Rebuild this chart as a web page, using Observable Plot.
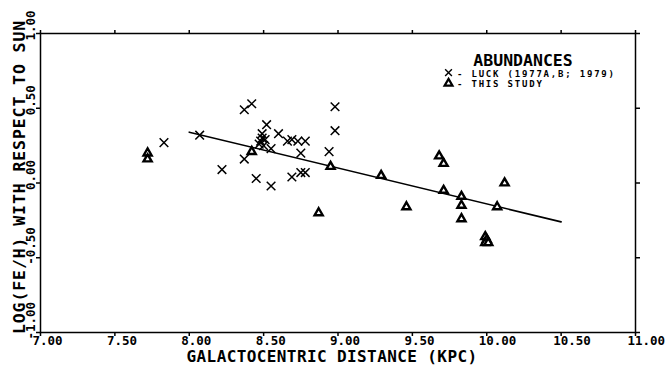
<!DOCTYPE html>
<html>
<head>
<meta charset="utf-8">
<script src="https://cdn.jsdelivr.net/npm/d3@7"></script>
<script src="https://cdn.jsdelivr.net/npm/@observablehq/plot@0.6"></script>
<style>
  html, body { margin: 0; padding: 0; background: white; }
  .ytitle text { letter-spacing: 0.9px; }
  .legtext text { letter-spacing: 1.8px; }
  .xtitle text { letter-spacing: 0.4px; }
</style>
</head>
<body>
<div id="chart"></div>
<script>
// Luck (1977a,b; 1979) abundances
const luckX = [7.83, 8.07, 8.22, 8.37, 8.37, 8.42, 8.45, 8.55, 8.52, 8.49, 8.49, 8.51, 8.48, 8.47, 8.50, 8.55, 8.60, 8.66, 8.69, 8.73, 8.78, 8.75, 8.69, 8.75, 8.78, 8.94, 8.98, 8.98];
const luckY = [0.27, 0.32, 0.09, 0.16, 0.49, 0.53, 0.03, -0.02, 0.39, 0.33, 0.30, 0.29, 0.28, 0.26, 0.25, 0.23, 0.33, 0.28, 0.29, 0.28, 0.28, 0.20, 0.04, 0.07, 0.07, 0.21, 0.35, 0.51];
// This study
const studyX = [7.72, 7.72, 8.42, 8.87, 8.95, 9.29, 9.46, 9.68, 9.71, 9.71, 9.83, 9.83, 9.83, 9.99, 10.00, 9.99, 10.01, 10.07, 10.12];
const studyY = [0.20, 0.16, 0.21, -0.20, 0.11, 0.05, -0.16, 0.18, 0.13, -0.05, -0.09, -0.15, -0.24, -0.36, -0.38, -0.40, -0.40, -0.16, 0.00];
// Fitted gradient line
const fitX = [8.0, 10.5];
const fitY = [0.34, -0.26];
// Ticks
const xTicks = [7.0, 7.5, 8.0, 8.5, 9.0, 9.5, 10.0, 10.5, 11.0];
const yTicks = [-1.0, -0.5, 0.0, 0.5, 1.0];
// Texts
const xTitle = "GALACTOCENTRIC DISTANCE (KPC)";
const yTitle = "LOG(FE/H) WITH RESPECT TO SUN";
const legendTitle = "ABUNDANCES";
const legendLabels = ["- LUCK (1977A,B; 1979)", "- THIS STUDY"];
const legendSymbols = ["times", "triangle"];
// legend anchor positions (data units)
const legendTitlePos = [10.244, 0.785];
const legendSymX = 9.743;
const legendSymY = [0.739, 0.666];
const legendTextX = 9.80;
const legendTextY = [0.712, 0.642];

const luck = luckX.map((x, i) => ({x, y: luckY[i]}));
const study = studyX.map((x, i) => ({x, y: studyY[i]}));
const fit = fitX.map((x, i) => ({x, y: fitY[i]}));
const legend = legendLabels.map((t, i) => ({t, s: legendSymbols[i], sy: legendSymY[i], ty: legendTextY[i]}));

const FONT = "DejaVu Sans Mono";

const chart = Plot.plot({
  width: 665,
  height: 365,
  marginLeft: 40,
  marginRight: 30,
  marginTop: 33,
  marginBottom: 33,
  style: {background: "white", fontFamily: FONT, color: "black"},
  x: {domain: [7, 11]},
  y: {domain: [-1, 1]},
  marks: [
    Plot.frame({stroke: "black", strokeWidth: 1.5}),
    Plot.axisX({anchor: "bottom", ticks: xTicks, tickSize: 4, tickFormat: () => "", label: null, strokeWidth: 1.5}),
    Plot.axisX({anchor: "top", ticks: xTicks, tickSize: 4, tickFormat: () => "", label: null, strokeWidth: 1.5}),
    Plot.axisY({anchor: "left", ticks: yTicks, tickSize: 4, tickFormat: () => "", label: null, strokeWidth: 1.5}),
    Plot.axisY({anchor: "right", ticks: yTicks, tickSize: 4, tickFormat: () => "", label: null, strokeWidth: 1.5}),
    // tick labels
    Plot.text(xTicks, {x: d => d, frameAnchor: "bottom", text: d => d.toFixed(2), textAnchor: "start", lineAnchor: "top", dx: -8, dy: 3.5, fontSize: 12.5, fontWeight: "bold", fontFamily: FONT}),
    Plot.text(yTicks, {y: d => d, frameAnchor: "left", text: d => d.toFixed(2), rotate: -90, textAnchor: "start", dx: -10, dy: 7, fontSize: 12.5, fontWeight: "bold", fontFamily: FONT}),
    // axis titles
    Plot.text([xTitle], {frameAnchor: "bottom", text: d => d, textAnchor: "middle", lineAnchor: "bottom", dx: -6, dy: 29.5, fontSize: 16, fontWeight: "bold", fontFamily: FONT, className: "xtitle"}),
    Plot.text([yTitle], {frameAnchor: "left", text: d => d, rotate: -90, textAnchor: "middle", dx: -21, dy: -6, fontSize: 16.5, fontWeight: "bold", fontFamily: FONT, className: "ytitle"}),
    // data
    Plot.line(fit, {x: "x", y: "y", stroke: "black", strokeWidth: 1.6}),
    Plot.dot(luck, {x: "x", y: "y", symbol: "times", r: 4.0, stroke: "black", strokeWidth: 1.5}),
    Plot.dot(study, {x: "x", y: "y", symbol: "triangle", r: 3.0, stroke: "black", fill: "white", strokeWidth: 2.4}),
    // legend
    Plot.text([legendTitle], {x: () => legendTitlePos[0], y: () => legendTitlePos[1], text: d => d, textAnchor: "middle", lineAnchor: "bottom", fontSize: 16.5, fontWeight: "bold", fontFamily: FONT}),
    Plot.dot(legend, {x: () => legendSymX, y: "sy", symbol: "s", r: d => d.s === "triangle" ? 2.6 : 3.0, stroke: "black", fill: d => d.s === "triangle" ? "white" : "none", strokeWidth: d => d.s === "triangle" ? 2.2 : 1.4}),
    Plot.text(legend, {x: () => legendTextX, y: "ty", text: "t", textAnchor: "start", lineAnchor: "bottom", fontSize: 9, fontWeight: "bold", fontFamily: FONT, className: "legtext"})
  ]
});
document.getElementById("chart").appendChild(chart);
</script>
</body>
</html>
